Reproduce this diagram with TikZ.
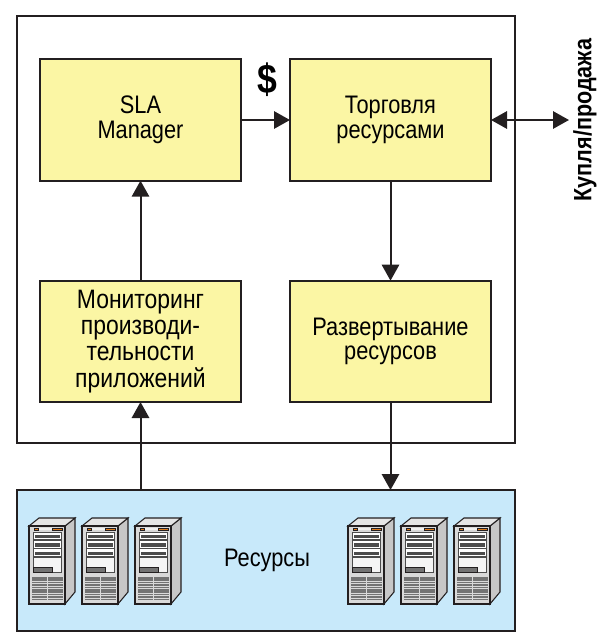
\documentclass[tikz,border=0pt]{standalone}
\usepackage{fontspec}
\setmainfont[FakeStretch=0.86]{Liberation Sans}
\usetikzlibrary{positioning, arrows.meta}
\definecolor{boxyellow}{HTML}{FBF6A4}
\definecolor{resblue}{HTML}{C8E9FA}
\definecolor{lineblack}{HTML}{231F20}
\definecolor{srvorange}{HTML}{E07B1A}
\tikzset{
  server/.pic={
    \draw[lineblack, line width=0.8pt, fill=black!22] (36,0) -- (46,-8) -- (46,66) -- (36,78) -- cycle;
    \draw[lineblack, line width=0.8pt, fill=black!10] (0,0) -- (10,-8) -- (46,-8) -- (36,0) -- cycle;
    \draw[lineblack, line width=0.8pt, fill=black!15] (0,0) rectangle (36,78);
    \fill[black!6] (5,1.5) rectangle (33,4);
    \draw[lineblack, line width=0.3pt, fill=srvorange] (5.3,1.7) rectangle (9.3,3.7);
    \draw[lineblack, line width=0.3pt, fill=srvorange] (22.7,1.7) rectangle (32.7,3.7);
    \foreach \bay in {6,14.3,22.7} {
      \draw[black!70, line width=0.5pt, fill=white] (4.3,\bay) rectangle (32.7,\bay+7.6);
      \fill[black!70] (6,\bay+3) rectangle (31,\bay+6.4);
    }
    \draw[black!70, line width=0.5pt, fill=black!4] (4.3,31.7) rectangle (32.7,46.7);
    \draw[lineblack, line width=0.5pt, fill=black!55] (4.3,41) rectangle (23.7,46);
    \foreach \slot in {51,53.4,...,74} {
      \fill[black!55] (3.3,\slot) rectangle (17.8,\slot+1.5);
      \fill[black!55] (19,\slot) rectangle (33.7,\slot+1.5);
    }
  }
}
\begin{document}
\begin{tikzpicture}[x=0.75pt, y=-0.75pt, node distance=36.75pt and 36.75pt,
  font=\fontsize{19}{18.6}\selectfont,
  block/.style={draw=lineblack, line width=1.5pt, fill=boxyellow, align=center, outer sep=0pt, inner sep=0pt, minimum width=150.75pt, minimum height=91pt},
  link/.style={draw=lineblack, line width=1.5pt, -{Triangle[length=12pt, width=13pt]}},
  bothlink/.style={draw=lineblack, line width=1.5pt, {Triangle[length=12pt, width=13pt]}-{Triangle[length=12pt, width=13pt]}}]
\useasboundingbox (0,0) rectangle (604,640);
% outer frame and resource strip
\node[draw=lineblack, line width=1.5pt, outer sep=0pt, minimum width=373.5pt, minimum height=320.25pt] (frame) at (266,229.5) {};
\node[draw=lineblack, line width=1.5pt, fill=resblue, outer sep=0pt, minimum width=373.5pt, minimum height=105.75pt] (res) at (266,560.5) {};
\node at (267,560) (reslabel) {Ресурсы};
% blocks
\node[block] at (140.5,120) (sla) {SLA\\Manager};
\node[block, right=of sla] (trade) {Торговля\\ресурсами};
\node[block, below=75pt of sla, font=\fontsize{20}{19.7}\selectfont] (mon) {Мониторинг\\производи-\\тельности\\приложений};
\node[block, below=75pt of trade] (deploy) {Развертывание\\ресурсов};
\node[font=\fontsize{31}{31}\selectfont\bfseries] at (267,80) (cost) {\$};
\node[rotate=90, font=\fontsize{18.8}{18}\selectfont\bfseries] at (585,120) (trade label) {Купля/продажа};
\coordinate (market) at (569,120);
% links
\draw[link] (sla) -- (trade);
\draw[link] (mon) -- (sla);
\draw[link] (trade) -- (deploy);
\draw[bothlink] (trade) -- (market);
\draw[link] (mon.south |- res.north) -- (mon.south);
\draw[link] (deploy.south) -- (deploy.south |- res.north);
% servers
\foreach \xpos in {29,82,135,348,401,454} {
  \pic at (\xpos,526) {server};
}
\end{tikzpicture}
\end{document}
